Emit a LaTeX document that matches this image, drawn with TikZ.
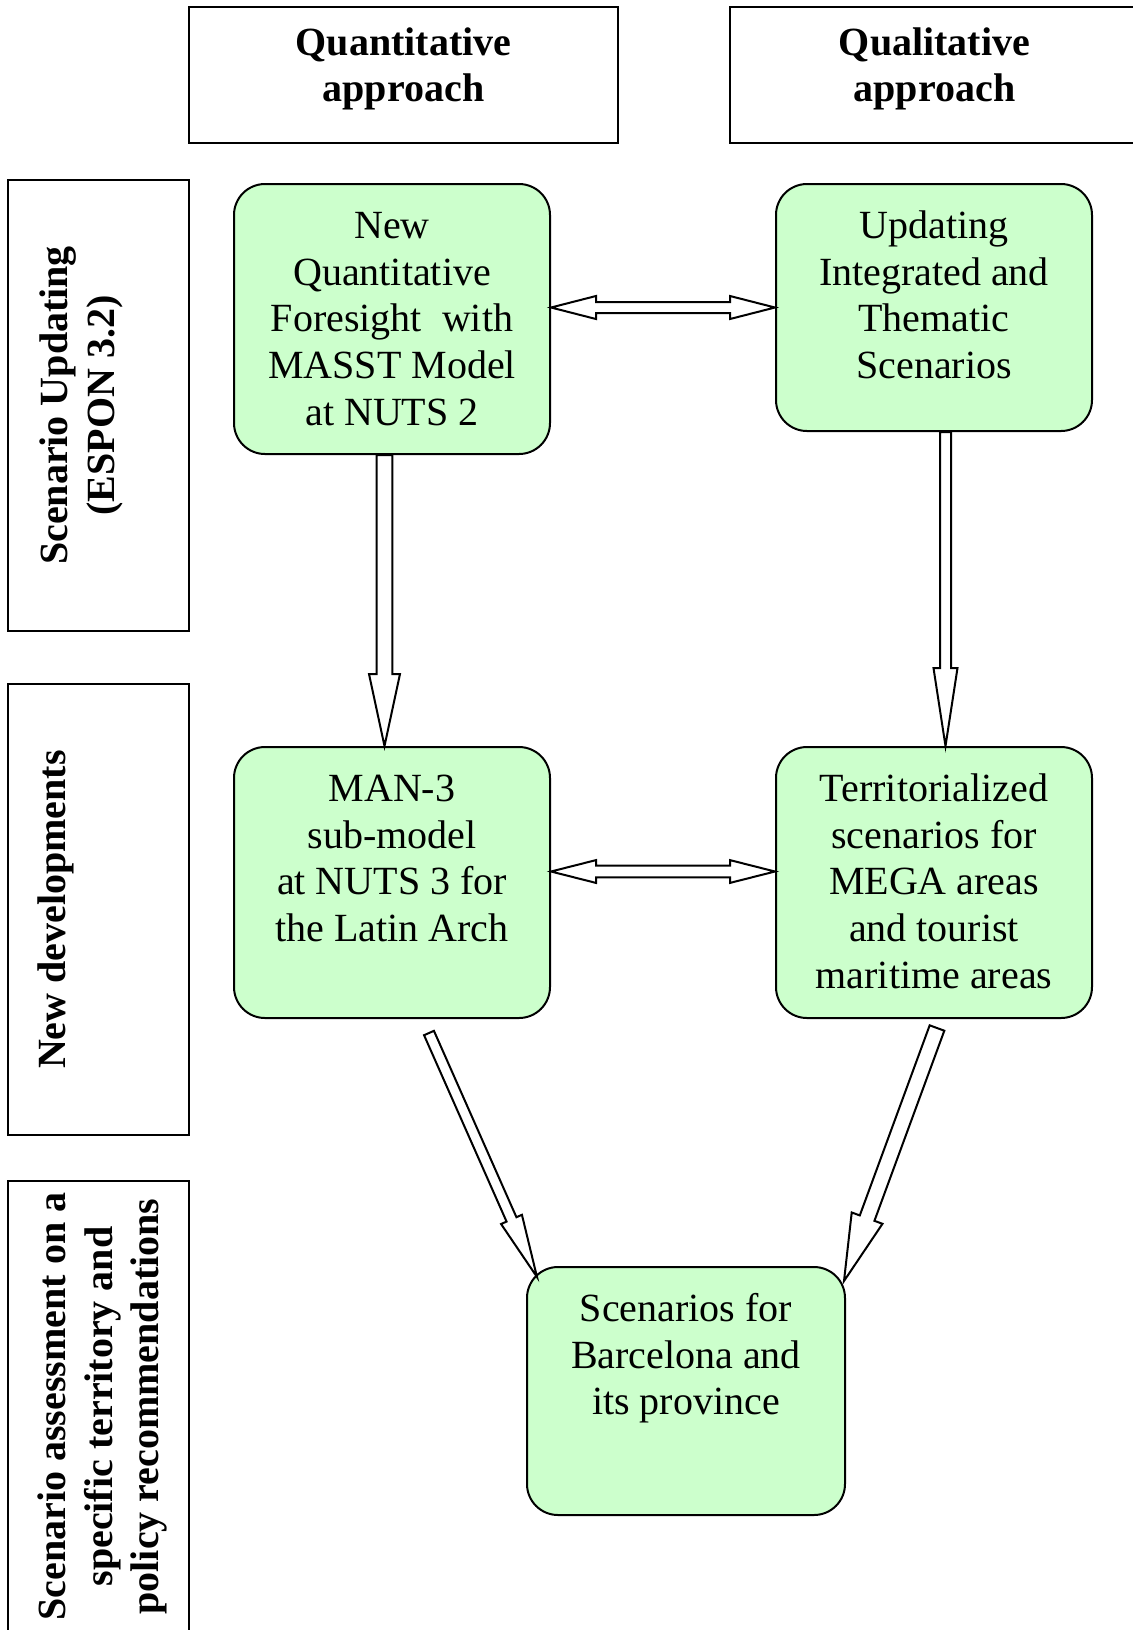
\documentclass[tikz,border=0pt]{standalone}
\usepackage{fontspec}
\usepackage{graphicx}
\setmainfont{Liberation Serif}
\usetikzlibrary{calc}
\definecolor{boxgreen}{HTML}{CCFFCC}

% single outlined block arrow: tail, tip, shaft half-width, head half-width, head length
\newcommand\fatarrow[5]{%
  \coordinate (fatn) at ($(#2)!#5!(#1)$);
  \draw[fatarrowline] ($(#1)!#3!90:(#2)$) -- ($(fatn)!#3!90:(#2)$) -- ($(fatn)!#4!90:(#2)$)
    -- (#2) -- ($(fatn)!#4!-90:(#2)$) -- ($(fatn)!#3!-90:(#2)$) -- ($(#1)!#3!-90:(#2)$) -- cycle;}
% double-headed outlined block arrow
\newcommand\fatdarrow[5]{%
  \coordinate (fatn) at ($(#2)!#5!(#1)$);
  \coordinate (fatm) at ($(#1)!#5!(#2)$);
  \draw[fatarrowline] (#1) -- ($(fatm)!#4!90:(#2)$) -- ($(fatm)!#3!90:(#2)$) -- ($(fatn)!#3!90:(#2)$)
    -- ($(fatn)!#4!90:(#2)$) -- (#2) -- ($(fatn)!#4!-90:(#2)$) -- ($(fatn)!#3!-90:(#2)$)
    -- ($(fatm)!#3!-90:(#2)$) -- ($(fatm)!#4!-90:(#2)$) -- cycle;}
\newcommand\toptext[4]{\parbox[c][#2][t]{#1}{\centering\vspace*{#3}\strut #4}}

\begin{document}
\begin{tikzpicture}[x=0.5pt,y=-0.5pt,
  every node/.style={font=\fontsize{20}{23.3}\selectfont},
  gbox/.style={draw, fill=boxgreen, rounded corners=15.5pt, line width=1pt, inner sep=0pt},
  hbox/.style={draw, line width=1pt, inner sep=0pt, font=\bfseries\fontsize{20}{23.3}\selectfont},
  fatarrowline/.style={draw, fill=white, line width=1pt, line join=miter}]
\useasboundingbox[fill=white] (0,0) rectangle (1133,1630);

% column headers
\node[hbox] (HL) at (403.5,75) {\toptext{214.5pt}{68pt}{7.8pt}{Quantitative\\approach}};
\node[hbox] (HR) at (934.5,75) {\toptext{204.5pt}{68pt}{7.8pt}{Qualitative\\approach}};

% row headers
\node[hbox, rotate=90] (R1) at (98.5,405.5) {\toptext{225.5pt}{90.5pt}{13.5pt}{Scenario Updating\\(ESPON 3.2)}};
\node[hbox, rotate=90] (R2) at (98.5,909.5) {\toptext{225.5pt}{90.5pt}{12.5pt}{New developments}};
\node[hbox, rotate=90] (R3) at (98.5,1406.5) {\toptext{225.5pt}{90.5pt}{12.5pt}{Scenario assessment on a\\specific territory and\\policy recommendations}};

% green boxes
\node[gbox] (A) at (392,319) {\toptext{158pt}{135pt}{11pt}{New\\Quantitative\\Foresight\ \ with\\MASST Model\\at NUTS 2}};
\node[gbox] (B) at (934,307.5) {\toptext{158pt}{123.5pt}{11pt}{Updating\\Integrated and\\Thematic\\Scenarios}};
\node[gbox] (C) at (392,882.5) {\toptext{158pt}{135.5pt}{11pt}{MAN-3\\sub-model\\at NUTS 3 for\\the Latin Arch}};
\node[gbox] (D) at (934,882.5) {\toptext{158pt}{135.5pt}{11pt}{Territorialized\\scenarios for\\MEGA areas\\and tourist\\maritime areas}};
\node[gbox] (E) at (686,1391) {\toptext{159pt}{124pt}{11pt}{Scenarios for\\Barcelona and\\its province}};

% horizontal double arrows
\coordinate (ab1) at (A.east |- B.west);
\fatdarrow{ab1}{B.west}{2.75pt}{5.75pt}{22.5pt}
\coordinate (cd1) at ($(C.east)+(0,-11)$);
\coordinate (cd2) at ($(D.west)+(0,-11)$);
\fatdarrow{cd1}{cd2}{2.9pt}{5.7pt}{22.5pt}

% vertical arrows
\coordinate (ac1) at ($(A.south)+(-7.5,0)$);
\coordinate (ac2) at ($(C.north)+(-7.5,0)$);
\fatarrow{ac1}{ac2}{3.9pt}{7.75pt}{36pt}
\coordinate (bd1) at ($(B.south)+(11.5,0)$);
\coordinate (bd2) at ($(D.north)+(11.5,0)$);
\fatarrow{bd1}{bd2}{2.75pt}{6pt}{39pt}

% diagonal arrows into E
\coordinate (ce1) at ($(C.south)+(37,14)$);
\coordinate (ce2) at ($(E.north west)+(11,11)$);
\fatarrow{ce1}{ce2}{2.7pt}{5.7pt}{31.5pt}
\coordinate (de1) at ($(D.south)+(3,9)$);
\coordinate (de2) at ($(E.north east)+(-2,15)$);
\fatarrow{de1}{de2}{3.9pt}{8.2pt}{33.5pt}
\end{tikzpicture}
\end{document}
